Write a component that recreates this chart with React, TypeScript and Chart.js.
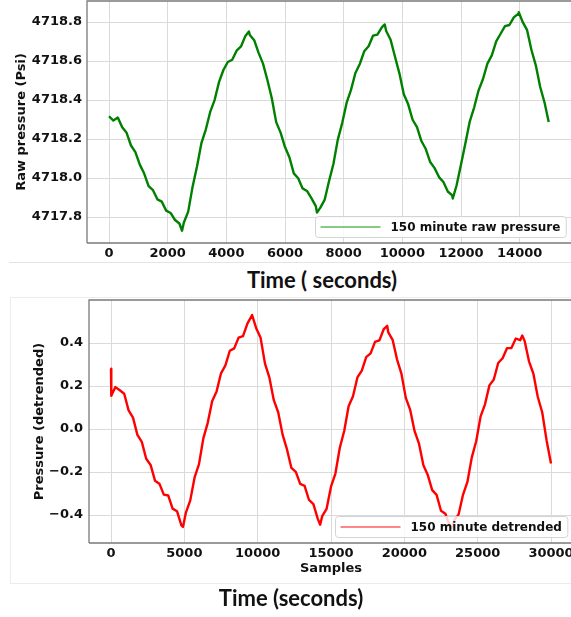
import React, { useEffect, useRef } from "react";
import { Chart, registerables } from "chart.js";

Chart.register(...registerables);
Chart.defaults.font.family = '"DejaVu Sans", sans-serif';
Chart.defaults.color = "#111";

// ---------- Top panel: raw pressure ----------
const rawTime = [
  0, 150, 300, 450, 600, 750, 900, 1050, 1200, 1350,
  1500, 1650, 1800, 1950, 2100, 2250, 2400, 2490, 2550, 2700,
  2850, 3000, 3150, 3300, 3450, 3600, 3750, 3900, 4050, 4200,
  4350, 4500, 4650, 4770, 4800, 4950, 5100, 5250, 5400, 5550,
  5700, 5850, 6000, 6150, 6300, 6450, 6600, 6750, 6900, 7050,
  7090, 7200, 7350, 7500, 7650, 7800, 7950, 8100, 8250, 8400,
  8550, 8700, 8850, 9000, 9150, 9300, 9400, 9450, 9600, 9750,
  9900, 10050, 10200, 10350, 10500, 10650, 10800, 10950, 11100, 11250,
  11400, 11550, 11700, 11720, 11850, 12000, 12150, 12300, 12450, 12600,
  12750, 12900, 13050, 13200, 13350, 13500, 13650, 13800, 13950, 13970,
  14100, 14250, 14400, 14550, 14700, 14850, 14990,
];
const rawPressure = [
  4718.317, 4718.295, 4718.31, 4718.26, 4718.232, 4718.167, 4718.133, 4718.069, 4718.023, 4717.959,
  4717.938, 4717.891, 4717.879, 4717.833, 4717.821, 4717.785, 4717.767, 4717.73, 4717.771, 4717.828,
  4717.956, 4718.059, 4718.179, 4718.249, 4718.339, 4718.4, 4718.492, 4718.554, 4718.595, 4718.607,
  4718.653, 4718.675, 4718.729, 4718.752, 4718.734, 4718.707, 4718.642, 4718.587, 4718.503, 4718.409,
  4718.287, 4718.233, 4718.159, 4718.107, 4718.024, 4717.999, 4717.947, 4717.934, 4717.897, 4717.856,
  4717.823, 4717.847, 4717.888, 4717.984, 4718.072, 4718.197, 4718.282, 4718.385, 4718.452, 4718.539,
  4718.585, 4718.65, 4718.676, 4718.73, 4718.736, 4718.773, 4718.788, 4718.754, 4718.709, 4718.622,
  4718.537, 4718.43, 4718.378, 4718.299, 4718.261, 4718.19, 4718.149, 4718.082, 4718.051, 4718.005,
  4717.98, 4717.931, 4717.911, 4717.895, 4717.963, 4718.069, 4718.179, 4718.291, 4718.363, 4718.45,
  4718.508, 4718.587, 4718.629, 4718.701, 4718.74, 4718.779, 4718.785, 4718.824, 4718.842, 4718.85,
  4718.801, 4718.76, 4718.658, 4718.578, 4718.467, 4718.386, 4718.288,
];
const rawXTicks = [0, 2000, 4000, 6000, 8000, 10000, 12000, 14000];
const rawXTickLabels = ["0", "2000", "4000", "6000", "8000", "10000", "12000", "14000"];
const rawYTicks = [4717.8, 4718.0, 4718.2, 4718.4, 4718.6, 4718.8];
const rawYTickLabels = ["4717.8", "4718.0", "4718.2", "4718.4", "4718.6", "4718.8"];
const rawLabel = "150 minute raw pressure";
const rawYTitle = "Raw pressure (Psi)";
const rawCaption = "Time ( seconds)";

// ---------- Bottom panel: detrended ----------
const sampleIndex = [
  0, 20, 300, 600, 900, 1200, 1500, 1800, 2100, 2400,
  2700, 3000, 3300, 3600, 3900, 4200, 4500, 4800, 4910, 5100,
  5400, 5700, 6000, 6300, 6600, 6900, 7200, 7500, 7800, 8100,
  8400, 8700, 9000, 9300, 9620, 9900, 10200, 10500, 10800, 11100,
  11400, 11700, 12000, 12300, 12600, 12900, 13200, 13500, 13800, 14100,
  14260, 14400, 14700, 15000, 15300, 15600, 15900, 16200, 16500, 16800,
  17100, 17400, 17700, 18000, 18300, 18600, 18830, 18900, 19200, 19500,
  19800, 20100, 20400, 20700, 21000, 21300, 21600, 21900, 22200, 22500,
  22800, 23100, 23260, 23400, 23700, 24000, 24300, 24600, 24900, 25200,
  25500, 25800, 26100, 26400, 26700, 27000, 27300, 27600, 27900, 28040,
  28200, 28500, 28800, 29100, 29400, 29700, 30000,
];
const detrended = [
  0.28, 0.155, 0.195, 0.18, 0.164, 0.087, 0.053, -0.027, -0.06, -0.138,
  -0.167, -0.24, -0.254, -0.305, -0.309, -0.37, -0.382, -0.448, -0.455, -0.39,
  -0.333, -0.225, -0.163, -0.042, 0.03, 0.13, 0.175, 0.259, 0.296, 0.364,
  0.375, 0.425, 0.432, 0.49, 0.53, 0.469, 0.424, 0.304, 0.239, 0.134,
  0.078, -0.026, -0.095, -0.181, -0.199, -0.255, -0.264, -0.33, -0.349, -0.418,
  -0.445, -0.405, -0.371, -0.268, -0.207, -0.087, -0.009, 0.106, 0.152, 0.24,
  0.272, 0.334, 0.352, 0.405, 0.412, 0.465, 0.48, 0.451, 0.415, 0.324,
  0.258, 0.145, 0.089, -0.01, -0.068, -0.168, -0.214, -0.284, -0.306, -0.38,
  -0.394, -0.452, -0.46, -0.424, -0.397, -0.306, -0.246, -0.132, -0.057, 0.059,
  0.115, 0.203, 0.23, 0.307, 0.329, 0.376, 0.377, 0.421, 0.413, 0.435,
  0.41, 0.315, 0.257, 0.149, 0.078, -0.053, -0.16,
];
const detXTicks = [0, 5000, 10000, 15000, 20000, 25000, 30000];
const detXTickLabels = ["0", "5000", "10000", "15000", "20000", "25000", "30000"];
const detYTicks = [-0.4, -0.2, 0.0, 0.2, 0.4];
const detYTickLabels = ["\u22120.4", "\u22120.2", "0.0", "0.2", "0.4"];
const detLabel = "150 minute detrended";
const detYTitle = "Pressure (detrended)";
const detXTitle = "Samples";
const detCaption = "Time (seconds)";

const framePlugin = {
  id: "frame",
  afterDatasetsDraw(chart: any) {
    const { ctx, chartArea: a } = chart;
    ctx.save();
    ctx.strokeStyle = "#7a7a7a";
    ctx.lineWidth = 1.3;
    ctx.beginPath();
    ctx.moveTo(a.left, a.bottom);
    ctx.lineTo(a.left, a.top);
    ctx.lineTo(a.right + 2, a.top);
    ctx.moveTo(a.left, a.bottom);
    ctx.lineTo(a.right + 2, a.bottom);
    ctx.stroke();
    ctx.restore();
  },
};

const boxLegendPlugin = {
  id: "boxLegend",
  afterDraw(chart: any, _args: any, opts: any) {
    const { ctx, chartArea: a } = chart;
    const ds = chart.data.datasets[0];
    ctx.save();
    ctx.font = 'bold 12px "DejaVu Sans"';
    const tw = ctx.measureText(ds.label).width;
    const h = 21, padL = 5, lineLen = 60, gap = 10, padR = 6;
    const w = padL + lineLen + gap + tw + padR;
    const x = Math.round(a.right - opts.right - w) + 0.5;
    const y = Math.round(a.bottom - opts.bottom - h) + 0.5;
    ctx.beginPath();
    ctx.roundRect(x, y, w, h, 3);
    ctx.fillStyle = "rgba(255,255,255,0.82)";
    ctx.fill();
    ctx.strokeStyle = "#d4d4d4";
    ctx.lineWidth = 1;
    ctx.stroke();
    ctx.beginPath();
    ctx.moveTo(x + padL, y + h / 2);
    ctx.lineTo(x + padL + lineLen, y + h / 2);
    ctx.strokeStyle = opts.lineColor;
    ctx.lineWidth = 1.5;
    ctx.stroke();
    ctx.fillStyle = "#111";
    ctx.textAlign = "left";
    ctx.textBaseline = "middle";
    ctx.fillText(ds.label, x + padL + lineLen + gap, y + h / 2 + 0.5);
    ctx.restore();
  },
};

function makeConfig(p: any) {
  const tickFont = { size: 13, weight: "bold" as const };
  return {
    type: "line" as const,
    data: {
      datasets: [
        {
          label: p.label,
          data: p.xs.map((x: number, i: number) => ({ x, y: p.ys[i] })),
          borderColor: p.color,
          borderWidth: 2.4,
          borderJoinStyle: "round" as const,
          pointRadius: 0,
          tension: 0,
          fill: false,
        },
      ],
    },
    options: {
      responsive: false,
      animation: false as const,
      events: [],
      layout: { padding: p.padding },
      plugins: {
        legend: { display: false },
        tooltip: { enabled: false },
        boxLegend: { right: p.legendRight, bottom: 6, lineColor: p.legendColor },
      },
      scales: {
        x: {
          type: "linear" as const,
          min: p.xMin,
          max: p.xMax,
          border: { display: false },
          grid: { color: "#dadada", lineWidth: 1, drawTicks: false },
          ticks: {
            padding: 3,
            color: "#111",
            font: tickFont,
            maxRotation: 0,
            autoSkip: false,
            callback: (_v: any, i: number) => p.xLabels[i],
          },
          title: p.xTitle
            ? { display: true, text: p.xTitle, color: "#111", font: { size: 13, weight: "bold" as const }, padding: { top: 0, bottom: p.xTitlePad } }
            : { display: false },
          afterBuildTicks: (s: any) => {
            s.ticks = p.xTicks.map((v: number) => ({ value: v }));
          },
          afterFit: (s: any) => {
            s.height = p.xHeight;
            s.paddingLeft = 0;
            s.paddingRight = 0;
          },
        },
        y: {
          type: "linear" as const,
          min: p.yMin,
          max: p.yMax,
          border: { display: false },
          grid: { color: "#dadada", lineWidth: 1, drawTicks: false },
          ticks: {
            padding: p.yTickPad,
            color: "#111",
            font: tickFont,
            autoSkip: false,
            callback: (_v: any, i: number) => p.yLabels[i],
          },
          title: { display: true, text: p.yTitle, color: "#111", font: { size: 13, weight: "bold" as const }, padding: { top: p.yTitlePad, bottom: 0 } },
          afterBuildTicks: (s: any) => {
            s.ticks = p.yTicks.map((v: number) => ({ value: v }));
          },
          afterFit: (s: any) => {
            s.width = p.yWidth;
            s.paddingTop = 0;
            s.paddingBottom = 0;
          },
        },
      },
    },
    plugins: [framePlugin, boxLegendPlugin],
  };
}

export default function App() {
  const topRef = useRef<HTMLCanvasElement>(null);
  const botRef = useRef<HTMLCanvasElement>(null);

  useEffect(() => {
    const top = new Chart(
      topRef.current as HTMLCanvasElement,
      makeConfig({
        label: rawLabel,
        xs: rawTime,
        ys: rawPressure,
        color: "#008000",
        legendColor: "rgba(40,160,40,0.75)",
        legendRight: 5,
        padding: { top: 1, right: 0, left: 0, bottom: 0 },
        xMin: -750,
        xMax: 15750,
        yMin: 4717.667,
        yMax: 4718.908,
        xTicks: rawXTicks,
        xLabels: rawXTickLabels,
        yTicks: rawYTicks,
        yLabels: rawYTickLabels,
        xHeight: 19,
        yWidth: 87,
        yTickPad: 5,
        yTitle: rawYTitle,
        yTitlePad: 14,
      }) as any
    );
    const bot = new Chart(
      botRef.current as HTMLCanvasElement,
      makeConfig({
        label: detLabel,
        xs: sampleIndex,
        ys: detrended,
        color: "#ff0000",
        legendColor: "rgba(255,40,40,0.75)",
        legendRight: 6,
        padding: { top: 10, right: 7, left: 0, bottom: 0 },
        xMin: -1500,
        xMax: 31500,
        yMin: -0.53,
        yMax: 0.6,
        xTicks: detXTicks,
        xLabels: detXTickLabels,
        yTicks: detYTicks,
        yLabels: detYTickLabels,
        xHeight: 47,
        xTitle: detXTitle,
        xTitlePad: 14,
        yWidth: 89,
        yTickPad: 6,
        yTitle: detYTitle,
        yTitlePad: 32,
      }) as any
    );
    return () => {
      top.destroy();
      bot.destroy();
    };
  }, []);

  const caption: React.CSSProperties = {
    position: "absolute",
    transform: "translateX(-50%)",
    font: "bold 22px Lato, sans-serif",
    lineHeight: "22px",
    whiteSpace: "nowrap",
    color: "#111",
  };

  return (
    <div style={{ position: "absolute", left: 0, top: 0, width: 571, height: 617, overflow: "hidden", background: "#fff" }}>
      <canvas ref={topRef} width={571} height={262} style={{ position: "absolute", left: 0, top: 0, display: "block" }} />
      <div style={{ position: "absolute", left: 9, top: 262, width: 562, height: 0, borderTop: "1px solid #e4e4e4" }} />
      <div style={{ ...caption, left: 322, top: 268.5 }}>{rawCaption}</div>
      <div style={{ position: "absolute", left: 10, top: 297, width: 600, height: 285, border: "1px solid #ececec" }} />
      <canvas ref={botRef} width={580} height={300} style={{ position: "absolute", left: 0, top: 290, display: "block" }} />
      <div style={{ ...caption, left: 291, top: 586.5 }}>{detCaption}</div>
    </div>
  );
}
